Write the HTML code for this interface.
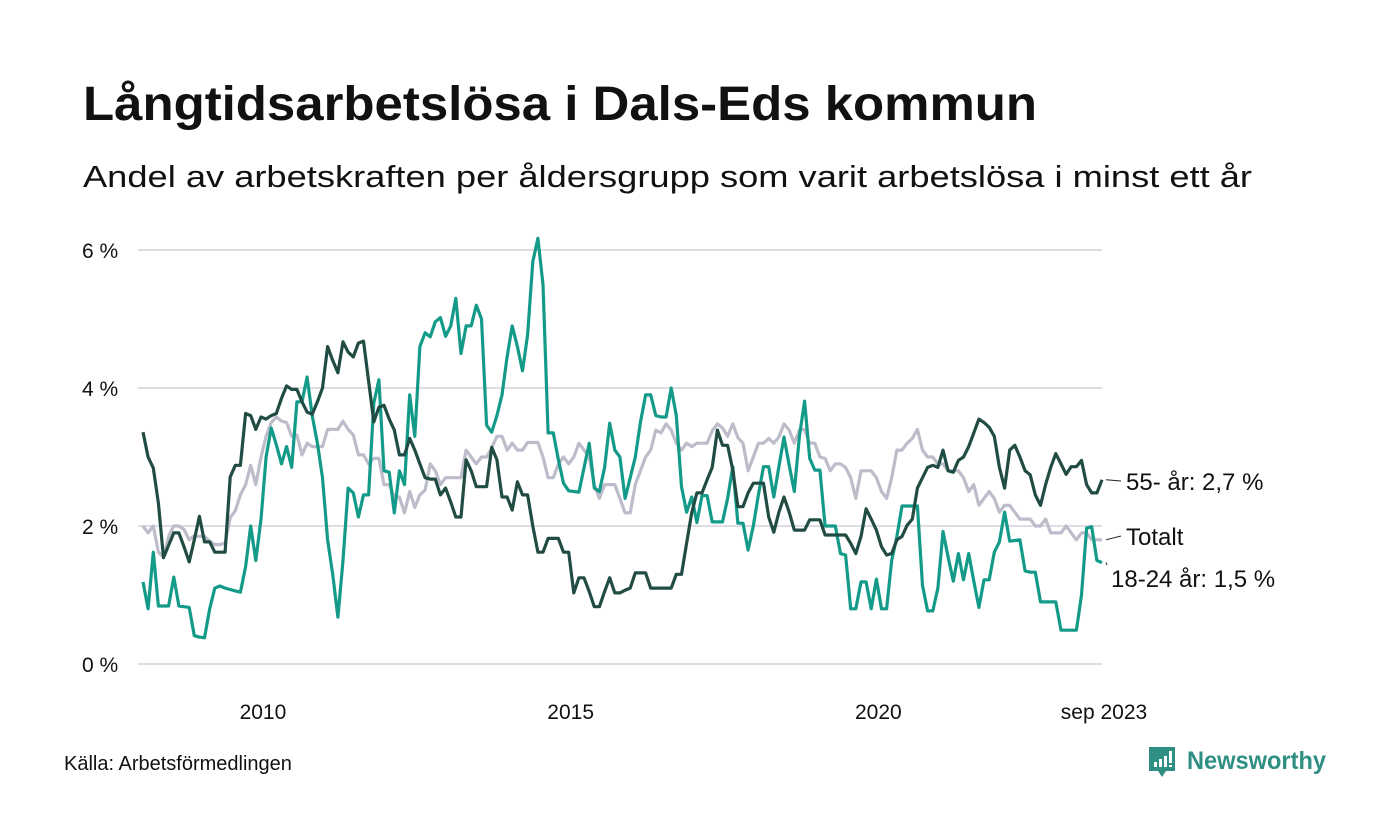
<!DOCTYPE html>
<html><head><meta charset="utf-8"><style>
html,body{margin:0;padding:0;background:#fff;}
svg{display:block;font-family:"Liberation Sans","DejaVu Sans",sans-serif;}
</style></head><body>
<svg id="chart" width="1400" height="840" viewBox="0 0 1400 840" xmlns="http://www.w3.org/2000/svg">
<text x="83" y="120" font-size="48" font-weight="bold" fill="#111" textLength="954" lengthAdjust="spacingAndGlyphs">Långtidsarbetslösa i Dals-Eds kommun</text>
<text x="83" y="187" font-size="31" fill="#111" textLength="1169" lengthAdjust="spacingAndGlyphs">Andel av arbetskraften per åldersgrupp som varit arbetslösa i minst ett år</text>
<g id="grid"></g>
<g id="lines"></g>
<g id="labels"></g>
<text x="64" y="770" font-size="20" fill="#111">Källa: Arbetsförmedlingen</text>
<g>
<path d="M1149 747 h26 v24 h-9 l-4 6 l-4 -6 h-9 z" fill="#2f8f83"/>
<rect x="1154" y="762" width="3" height="5" fill="#fff"/>
<rect x="1159" y="759" width="3" height="8" fill="#fff"/>
<rect x="1164" y="756" width="3" height="11" fill="#fff"/>
<rect x="1169" y="751" width="3" height="12" fill="#fff"/>
<rect x="1169" y="765" width="3" height="2" fill="#fff"/>
<text x="1187" y="769" font-size="25" font-weight="bold" fill="#2f8f83" textLength="139" lengthAdjust="spacingAndGlyphs">Newsworthy</text>
</g>
</svg>
<script>
const yTicks = [0, 2, 4, 6];
const xTickLabels = ["2010", "2015", "2020", "sep 2023"];
const xTickIndex = [23, 83, 143, 187];
const seriesNames = ["Totalt", "18-24 år", "55- år"];
const totalt = [2.0,1.9,2.0,1.62,1.55,1.85,2.0,2.0,1.95,1.8,1.86,1.85,1.85,1.78,1.73,1.73,1.75,2.12,2.22,2.45,2.6,2.88,2.6,3.0,3.3,3.5,3.58,3.52,3.5,3.3,3.32,3.03,3.2,3.15,3.15,3.15,3.4,3.4,3.4,3.52,3.4,3.32,3.03,3.03,2.9,2.98,2.98,2.6,2.6,2.42,2.42,2.19,2.5,2.27,2.45,2.52,2.9,2.8,2.6,2.7,2.7,2.7,2.7,3.1,3.0,2.9,3.0,3.0,3.13,3.3,3.3,3.1,3.2,3.1,3.1,3.21,3.21,3.21,3.0,2.7,2.7,2.9,3.0,2.9,3.0,3.2,3.1,3.0,2.6,2.4,2.6,2.6,2.6,2.4,2.19,2.19,2.6,2.8,3.0,3.1,3.39,3.35,3.48,3.39,3.2,3.1,3.2,3.15,3.2,3.2,3.2,3.38,3.48,3.42,3.3,3.48,3.28,3.2,2.8,3.0,3.2,3.2,3.27,3.2,3.29,3.48,3.39,3.2,3.39,3.4,3.2,3.2,3.0,2.98,2.8,2.9,2.9,2.85,2.7,2.4,2.8,2.8,2.8,2.7,2.5,2.4,2.7,3.1,3.1,3.2,3.27,3.4,3.1,3.0,3.0,2.9,2.9,2.8,2.8,2.8,2.7,2.5,2.6,2.3,2.4,2.5,2.4,2.2,2.3,2.3,2.2,2.1,2.1,2.1,2.0,2.0,2.1,1.9,1.9,1.9,2.0,1.9,1.8,1.9,1.9,1.8,1.8,1.8];
const ung = [1.19,0.8,1.62,0.84,0.84,0.84,1.26,0.84,0.83,0.82,0.41,0.39,0.38,0.8,1.1,1.13,1.1,1.08,1.06,1.04,1.41,2.0,1.5,2.1,3.0,3.42,3.18,2.9,3.15,2.85,3.8,3.8,4.16,3.6,3.2,2.7,1.8,1.3,0.68,1.5,2.55,2.48,2.13,2.45,2.45,3.78,4.12,2.8,2.78,2.19,2.8,2.6,3.9,3.3,4.6,4.8,4.74,4.96,5.02,4.75,4.9,5.3,4.5,4.9,4.9,5.2,5.0,3.46,3.36,3.6,3.9,4.45,4.9,4.6,4.25,4.77,5.83,6.17,5.5,3.35,3.35,2.96,2.62,2.51,2.5,2.49,2.84,3.2,2.55,2.5,2.85,3.49,3.1,3.0,2.4,2.7,3.0,3.5,3.9,3.9,3.6,3.58,3.58,4.0,3.6,2.57,2.2,2.42,2.05,2.44,2.44,2.06,2.06,2.06,2.4,2.86,2.04,2.04,1.65,2.0,2.45,2.86,2.86,2.42,2.86,3.29,2.88,2.5,3.3,3.81,2.98,2.81,2.81,2.0,2.0,2.0,1.6,1.58,0.8,0.8,1.19,1.19,0.8,1.23,0.8,0.8,1.5,1.85,2.29,2.29,2.29,2.29,1.14,0.77,0.77,1.1,1.92,1.55,1.2,1.6,1.22,1.6,1.2,0.82,1.22,1.22,1.62,1.77,2.2,1.78,1.79,1.8,1.35,1.33,1.33,0.9,0.9,0.9,0.9,0.49,0.49,0.49,0.49,1.0,1.97,1.99,1.5,1.47];
const aldre = [3.36,3.0,2.84,2.33,1.54,1.72,1.9,1.9,1.7,1.48,1.8,2.14,1.77,1.77,1.62,1.62,1.62,2.71,2.88,2.88,3.63,3.6,3.4,3.58,3.55,3.6,3.63,3.85,4.03,3.98,3.98,3.8,3.65,3.62,3.8,4.0,4.6,4.4,4.22,4.67,4.52,4.45,4.65,4.68,4.1,3.51,3.72,3.75,3.55,3.39,3.03,3.03,3.27,3.1,2.9,2.7,2.68,2.68,2.45,2.55,2.35,2.13,2.13,2.96,2.8,2.57,2.57,2.57,3.14,2.96,2.42,2.42,2.23,2.64,2.45,2.45,2.0,1.62,1.62,1.82,1.82,1.82,1.62,1.62,1.03,1.25,1.25,1.05,0.83,0.83,1.05,1.25,1.03,1.03,1.07,1.1,1.32,1.32,1.32,1.1,1.1,1.1,1.1,1.1,1.3,1.3,1.75,2.19,2.48,2.48,2.67,2.85,3.39,3.17,3.17,2.81,2.28,2.28,2.48,2.62,2.62,2.62,2.13,1.91,2.2,2.42,2.2,1.94,1.94,1.94,2.09,2.09,2.09,1.87,1.87,1.87,1.87,1.87,1.75,1.6,1.85,2.25,2.1,1.94,1.7,1.58,1.6,1.8,1.85,2.01,2.1,2.55,2.7,2.85,2.88,2.85,3.1,2.8,2.78,2.95,3.0,3.15,3.35,3.55,3.5,3.43,3.3,2.85,2.55,3.1,3.17,3.0,2.8,2.74,2.45,2.3,2.6,2.85,3.05,2.9,2.75,2.86,2.86,2.95,2.6,2.48,2.48,2.67];
const endLabels = ["Totalt", "18-24 år: 1,5 %", "55- år: 2,7 %"];

const NS = "http://www.w3.org/2000/svg";
const X0 = 143, X1 = 1102, Y0 = 664, PXPER = 69;
const N = totalt.length;
function xs(i){ return X0 + i * (X1 - X0) / (N - 1); }
function ys(v){ return Y0 - v * PXPER; }
function mk(tag, attrs, parent){ const e = document.createElementNS(NS, tag); for (const k in attrs) e.setAttribute(k, attrs[k]); parent.appendChild(e); return e; }

const grid = document.getElementById("grid");
yTicks.forEach(function(t){
  const l = mk("line", {x1: 138, x2: 1102, y1: ys(t), y2: ys(t), stroke: "#dedde3", "stroke-width": 2}, grid);
  
  
  const tx = mk("text", {x: 82, y: ys(t) + 8, "font-size": 21, fill: "#111"}, grid);
  tx.textContent = t + " %";
  
  
});
xTickLabels.forEach(function(lab, k){
  const tx = mk("text", {x: xs(xTickIndex[k]) + 2, y: 719, "font-size": 21, fill: "#111", "text-anchor": "middle"}, grid);
  tx.textContent = lab;
  
  
});

const lines = document.getElementById("lines");
const data = [totalt, ung, aldre];
const colors = ["#bdbcca", "#149a88", "#204c44"];
data.forEach(function(arr, s){
  const d = arr.map(function(v, i){ return (i ? "L" : "M") + xs(i).toFixed(1) + " " + ys(v).toFixed(1); }).join(" ");
  const p = mk("path", {d: d, fill: "none", stroke: colors[s], "stroke-width": 3.2, "stroke-linejoin": "round"}, lines);
  
  
});

const labels = document.getElementById("labels");
const labY = [536, 578, 481];
const leaderY = [538, 563, 481];
data.forEach(function(arr, s){
  const yv = ys(arr[N - 1]);
  const ld = mk("line", {x1: 1106, y1: Math.min(Math.max(yv, leaderY[s] - 4), leaderY[s] + 4), x2: s === 1 ? 1107 : 1121, y2: s === 1 ? 565 : leaderY[s] - (s === 0 ? 2 : 0), stroke: "#222", "stroke-width": 1}, labels);
  
  
  const tx = mk("text", {x: s === 1 ? 1111 : 1126, y: labY[s] + 9, "font-size": 24, fill: "#111"}, labels);
  tx.textContent = endLabels[s];
  
  
});
</script>
</body></html>
